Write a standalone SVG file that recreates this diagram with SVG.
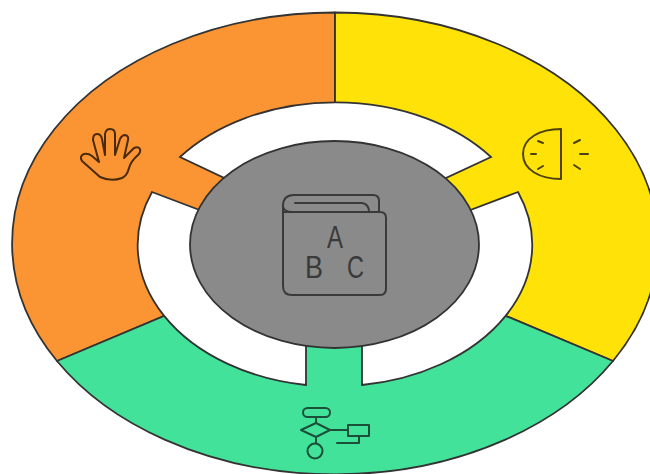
<svg xmlns="http://www.w3.org/2000/svg" width="650" height="474" viewBox="0 0 650 474">
<style>
.seg{stroke:#333;stroke-width:1.8;stroke-linejoin:round}
.gap{fill:#fff;stroke:#333;stroke-width:1.8;stroke-linejoin:miter}
.ic{fill:none;stroke-width:2;stroke-linecap:round;stroke-linejoin:round}
.ltr{font-family:"Liberation Sans",Arial,sans-serif;font-size:32px;fill:#3a3a3a}
</style>
<rect width="650" height="474" fill="#fff"/>
<g id="segment-orange">
<path class="seg" fill="#fb9433" d="M335 244L335 12.5A323 231 0 0 0 57 361Z"/>
<g class="ic" stroke="#4a2a0c"><path d="M100 177L82 161Q79 156 84 154Q88 153 92 156L99 162L93 140Q93 134 97 134Q101 134 102 139L105 155L105 134Q106 129 110 129Q115 129 115 134L115 155L120 139Q122 135 125 135Q129 136 128 140L124 158L134 148Q138 146 140 149Q141 152 138 155Q131 161 129 168Q127 176 122 178Q111 182 100 177Z"/></g>
</g>
<g id="segment-yellow">
<path class="seg" fill="#ffe208" d="M335 244L335 12.5A323 231 0 0 1 613 361Z"/>
<g class="ic" stroke="#4d430a"><path d="M561 129V179M561 129C540 129 523 138 523 154C523 170 540 179 561 179"/><path d="M538 141L543 143M531 154L536 154M538 169L543 166M574 143L580 140M580 154L588 154M574 165L580 169"/></g>
</g>
<g id="segment-green">
<path class="seg" fill="#42e29a" d="M335 244L57 361A323 231 0 0 0 613 361Z"/>
<g class="ic" stroke="#1c4f39"><rect x="303" y="408" width="27" height="9" rx="4.5"/><path d="M316 417V423M316 423L330 430L316 437L301 430ZM316 437V443M330 430H348"/><circle cx="315" cy="451" r="7.5"/><rect x="348" y="425" width="21" height="11"/><path d="M359 436V443H337"/></g>
</g>
<g id="connectors">
<path class="gap" d="M180 157A197 141.500 0 0 1 491 157L435 183H235Z"/>
<path class="gap" d="M152 192L210 214L306 330V385A197 141.500 0 0 1 152 192Z"/>
<path class="gap" d="M518 192L460 214L362 330V385A197 141.500 0 0 0 518 192Z"/>
</g>
<g id="center">
<ellipse cx="334.500" cy="244.500" rx="144.500" ry="103.500" fill="#8a8a8a" stroke="#333" stroke-width="1.800"/>
<g class="ic" stroke="#3a3a3a"><path d="M283 212H380Q386 212 386 218V288Q386 295 380 295H292Q283 295 283 286V206Q283 195 294 195H373Q379 195 379 201V212"/><path d="M283 207Q285 212 292 212M295 203H362Q369 204 369 212"/></g>
<text class="ltr" x="327" y="248" textLength="16" lengthAdjust="spacingAndGlyphs">A</text>
<text class="ltr" x="305" y="278" textLength="18" lengthAdjust="spacingAndGlyphs">B</text>
<text class="ltr" x="347" y="278" textLength="17" lengthAdjust="spacingAndGlyphs">C</text>
</g>
</svg>
